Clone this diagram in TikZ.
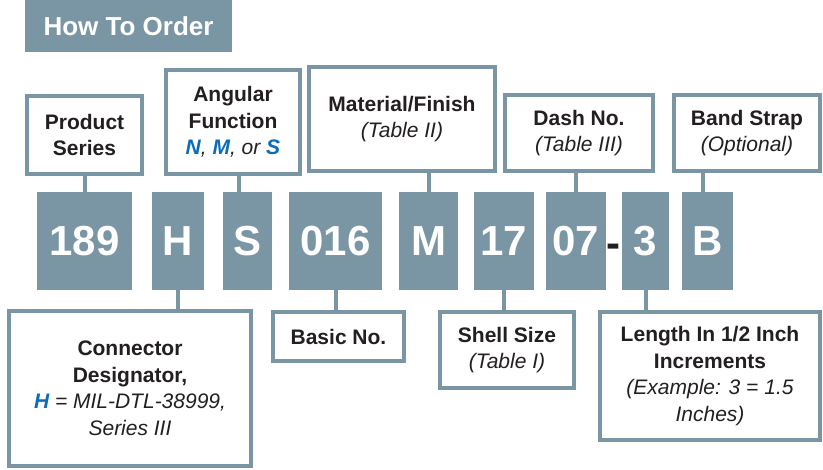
\documentclass[tikz,border=0pt]{standalone}
\usepackage{fontspec}
\setmainfont{Liberation Sans}
\usepackage{tikz}

\definecolor{slate}{HTML}{7A96A4}
\definecolor{codeblue}{HTML}{0B6DB7}
\definecolor{ink}{HTML}{231F20}

\begin{document}
\begin{tikzpicture}[x=1pt,y=-1pt,
	lbl/.style={draw=slate, line width=4pt, fill=white, align=center, text=ink, inner sep=0pt,
		font=\fontsize{21}{26.5}\selectfont},
	num/.style={fill=slate, text=white, inner sep=0pt, minimum height=98pt,
		font=\fontsize{42}{42}\selectfont\bfseries},
	link/.style={draw=slate, line width=4pt}]

\useasboundingbox (0,0) rectangle (823,470);

% title
\fill[slate] (25,0) rectangle (232,52);
\node[text=white, font=\fontsize{26}{26}\selectfont\bfseries] (title) at (128.5,26) {How To Order};

% code boxes
\node[num, minimum width=95pt] (n189) at (84.5,241) {189};
\node[num, minimum width=52pt] (nH) at (178,241) {H};
\node[num, minimum width=49pt] (nS) at (247.5,241) {S};
\node[num, minimum width=93pt] (n016) at (335.5,241) {016};
\node[num, minimum width=59pt] (nM) at (428.5,241) {M};
\node[num, minimum width=60pt] (n17) at (504,241) {17};
\node[num, minimum width=60pt] (n07) at (576,241) {07};
\node[text=ink, font=\fontsize{42}{42}\selectfont\bfseries, inner sep=0pt, anchor=base] (dash) at (613,258) {-};
\node[num, minimum width=47pt] (n3) at (645.5,241) {3};
\node[num, minimum width=51pt] (nB) at (707.5,241) {B};

% upper labels
\node[lbl, minimum width=115pt, minimum height=78pt] (series) at (84.5,135)
	{\textbf{Product}\\\textbf{Series}};
\node[lbl, minimum width=134pt, minimum height=104pt] (angular) at (233,122)
	{\textbf{Angular}\\\textbf{Function}\\\textit{\textcolor{codeblue}{\textbf{N}}, \textcolor{codeblue}{\textbf{M}}, or \textcolor{codeblue}{\textbf{S}}}};
\node[lbl, minimum width=186pt, minimum height=104pt] (finish) at (402,119)
	{\textbf{Material/Finish}\\\textit{(Table II)}};
\node[lbl, minimum width=148pt, minimum height=76pt] (dashno) at (579,133)
	{\textbf{Dash No.}\\\textit{(Table III)}};
\node[lbl, minimum width=146pt, minimum height=76pt] (strap) at (747,133)
	{\textbf{Band Strap}\\\textit{(Optional)}};

% lower labels
\node[lbl, minimum width=242pt, minimum height=155pt] (designator) at (130,388.5)
	{\textbf{Connector}\\\textbf{Designator,}\\\textit{\textcolor{codeblue}{\textbf{H}} = MIL-DTL-38999,}\\\textit{Series III}};
\node[lbl, minimum width=131pt, minimum height=49pt] (basic) at (338.5,336.5)
	{\textbf{Basic No.}};
\node[lbl, minimum width=134pt, minimum height=76pt] (shell) at (507,350)
	{\textbf{Shell Size}\\\textit{(Table I)}};
\node[lbl, minimum width=220pt, minimum height=128pt] (length) at (710,376)
	{\textbf{Length In 1/2 Inch}\\\textbf{Increments}\\\textit{(Example: 3 = 1.5}\\\textit{Inches)}};

% connectors
\coordinate (sTop) at ([xshift=-8.5pt]nS.north);
\coordinate (bTop) at ([xshift=-4.5pt]nB.north);
\draw[link] (n189.north) -- (n189.north |- series.south);
\draw[link] (sTop) -- (sTop |- angular.south);
\draw[link] (nM.north) -- (nM.north |- finish.south);
\draw[link] (n07.north) -- (n07.north |- dashno.south);
\draw[link] (bTop) -- (bTop |- strap.south);
\draw[link] (nH.south) -- (nH.south |- designator.north);
\draw[link] (n016.south) -- (n016.south |- basic.north);
\draw[link] (n17.south) -- (n17.south |- shell.north);
\draw[link] (n3.south) -- (n3.south |- length.north);

\end{tikzpicture}
\end{document}
